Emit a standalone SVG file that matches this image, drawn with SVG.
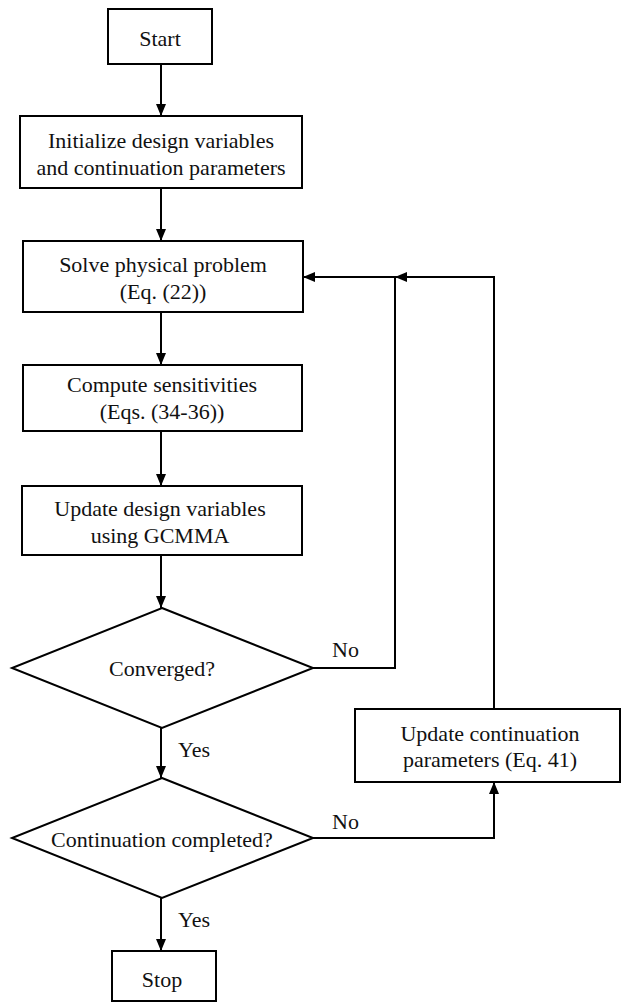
<svg xmlns="http://www.w3.org/2000/svg" width="622" height="1004" viewBox="0 0 622 1004" font-family="Liberation Serif, Times New Roman, serif" font-size="22">
<style>
.box{fill:#fff;stroke:#000;stroke-width:2}
.t{fill:#111;text-anchor:middle}
.tl{fill:#111}
.c{fill:none;stroke:#000;stroke-width:2}
</style>
<defs>
<marker id="ah" viewBox="0 0 12 10" refX="12" refY="5" markerWidth="12" markerHeight="10" markerUnits="userSpaceOnUse" orient="auto">
<path d="M0,0 L12,5 L0,10 z" fill="#000"/>
</marker>
</defs>
<rect width="622" height="1004" fill="#fff"/>
<g id="connectors">
<line class="c" x1="161" y1="64" x2="161" y2="116" marker-end="url(#ah)"/>
<line class="c" x1="161" y1="188" x2="161" y2="241" marker-end="url(#ah)"/>
<line class="c" x1="161" y1="312" x2="161" y2="365" marker-end="url(#ah)"/>
<line class="c" x1="161" y1="431" x2="161" y2="486" marker-end="url(#ah)"/>
<line class="c" x1="161" y1="555" x2="161" y2="608" marker-end="url(#ah)"/>
<line class="c" x1="161" y1="728" x2="161" y2="778" marker-end="url(#ah)"/>
<line class="c" x1="161" y1="898" x2="161" y2="951" marker-end="url(#ah)"/>
<polyline class="c" points="313,668 395,668 395,277 303,277" marker-end="url(#ah)"/>
<polyline class="c" points="494,709 494,277 395,277" marker-end="url(#ah)"/>
<polyline class="c" points="313,838 494,838 494,782" marker-end="url(#ah)"/>
<text class="tl" x="332" y="657" font-family="Liberation Serif, serif">No</text>
<text class="tl" x="332" y="829" font-family="Liberation Serif, serif">No</text>
<text class="tl" x="178" y="757" font-family="Liberation Serif, serif">Yes</text>
<text class="tl" x="178" y="927" font-family="Liberation Serif, serif">Yes</text>
</g>
<g id="start">
<rect class="box" x="108" y="9" width="104" height="55"/>
<text class="t" x="160" y="46" font-family="Liberation Serif, serif">Start</text>
</g>
<g id="init" font-family="Liberation Serif, serif">
<rect class="box" x="20" y="116" width="282" height="72"/>
<text class="t" x="161" y="148">Initialize design variables</text>
<text class="t" x="161" y="175">and continuation parameters</text>
</g>
<g id="solve" font-family="Liberation Serif, serif">
<rect class="box" x="23" y="241" width="280" height="71"/>
<text class="t" x="163" y="272">Solve physical problem</text>
<text class="t" x="163" y="299">(Eq. (22))</text>
</g>
<g id="compute" font-family="Liberation Serif, serif">
<rect class="box" x="23" y="365" width="279" height="66"/>
<text class="t" x="162" y="392">Compute sensitivities</text>
<text class="t" x="162" y="419">(Eqs. (34-36))</text>
</g>
<g id="update" font-family="Liberation Serif, serif">
<rect class="box" x="22" y="486" width="280" height="69"/>
<text class="t" x="160" y="516">Update design variables</text>
<text class="t" x="160" y="543">using GCMMA</text>
</g>
<g id="converged" font-family="Liberation Serif, serif">
<polygon class="box" points="162,608 313,668 162,728 12,668"/>
<text class="t" x="162" y="676">Converged?</text>
</g>
<g id="continuation" font-family="Liberation Serif, serif">
<polygon class="box" points="162,778 313,838 162,898 12,838"/>
<text class="t" x="162" y="847">Continuation completed?</text>
</g>
<g id="updatecont" font-family="Liberation Serif, serif">
<rect class="box" x="355" y="709" width="265" height="73"/>
<text class="t" x="490" y="741">Update continuation</text>
<text class="t" x="490" y="767">parameters (Eq. 41)</text>
</g>
<g id="stop" font-family="Liberation Serif, serif">
<rect class="box" x="112" y="951" width="104" height="50"/>
<text class="t" x="162" y="987">Stop</text>
</g>
</svg>
